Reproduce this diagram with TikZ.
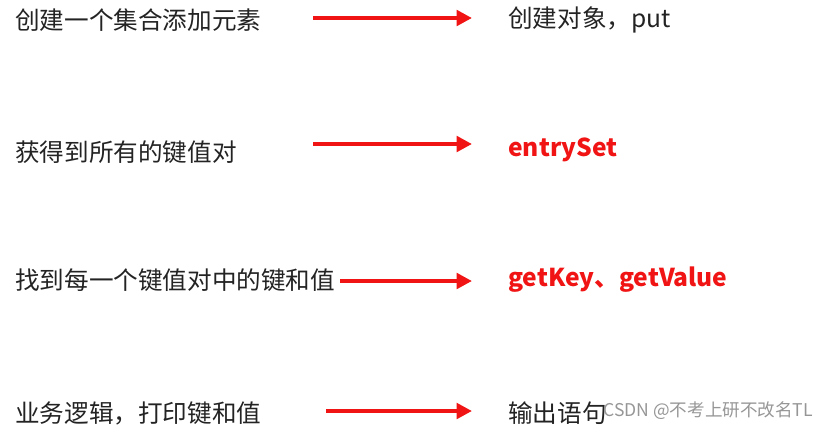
\documentclass[tikz,border=0pt]{standalone}
\usepackage{fontspec}
\setmainfont{Noto Sans CJK SC}
\usetikzlibrary{positioning,arrows.meta}
\definecolor{arrred}{RGB}{240,20,20}
\definecolor{txtgray}{RGB}{35,35,35}
\definecolor{wmgray}{RGB}{150,150,150}
\tikzset{
  step text/.style={anchor=west,inner sep=0pt,text=txtgray,font=\fontsize{17.5}{20}\selectfont},
  red text/.style={step text,text=arrred,font=\fontsize{17.5}{20}\selectfont\bfseries},
  redarr/.style={draw=arrred,line width=3.2pt,-{Triangle[length=11pt,width=11pt]},shorten >=0.9cm},
  wmark/.style={anchor=west,inner sep=0pt,text=wmgray,font=\fontsize{12.5}{14}\selectfont}
}
\begin{document}
\begin{tikzpicture}[x=0.025cm,y=-0.025cm]
  \useasboundingbox (0,0) rectangle (826,430);
  % left column
  \node[step text] (l1) at (15,20) {创建一个集合添加元素};
  \node[step text] (l2) at (15,152) {获得到所有的键值对};
  \node[step text] (l3) at (15,280) {找到每一个键值对中的键和值};
  \node[step text] (l4) at (15,413) {业务逻辑，打印键和值};
  % right column
  \node[step text] (r1) at (508,20) {创建对象，put};
  \node[red text] (r2) at (508,150) {entrySet};
  \node[red text] (r3) at (508,280) {getKey、getValue};
  \node[step text] (r4) at (508,413) {输出语句};
  % arrows
  \coordinate (s1) at (313,18);
  \coordinate (s2) at (313,144);
  \coordinate (s3) at (340,281);
  \coordinate (s4) at (326,411);
  \draw[redarr] (s1) -- (s1 -| r1.west);
  \draw[redarr] (s2) -- (s2 -| r2.west);
  \draw[redarr] (s3) -- (s3 -| r3.west);
  \draw[redarr] (s4) -- (s4 -| r4.west);
  \node[wmark] (wm) at (603,411) {CSDN @不考上研不改名TL};
\end{tikzpicture}
\end{document}
